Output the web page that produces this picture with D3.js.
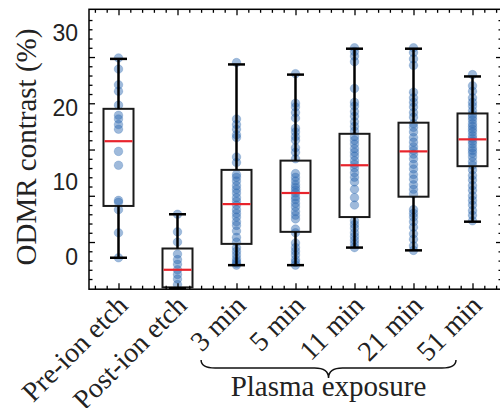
<!DOCTYPE html>
<html>
<head>
<meta charset="utf-8">
<script src="https://cdn.jsdelivr.net/npm/d3@7"></script>
<style>
  body { margin: 0; background: #fff; }
  svg { display: block; }
</style>
</head>
<body>
<div id="chart"></div>
<script>
// Categories on the x axis
const categories = ["Pre-ion etch", "Post-ion etch", "3 min", "5 min", "11 min", "21 min", "51 min"];

// Individual measurements per category (ODMR contrast, axis units)
const preIon = [24.9, 23.7, 22.0, 21.3, 19.8, 18.7, 18.3, 17.7, 17.2, 14.8, 13.3, 9.5, 9.3, 8.5, 6.0, 3.3];
const postIon = [8.0, 6.1, 5.0, 3.7, 3.1, 2.6, 2.0, 1.5, 1.0, 0.4];
const min3 = [24.4, 18.3, 17.7, 17.2, 16.6, 16.3, 14.2, 13.6, 12.3, 12.0, 11.6, 11.1, 10.7, 10.3, 9.8, 9.4,
  9.0, 8.5, 8.1, 7.7, 7.2, 6.8, 6.2, 5.5, 5.0, 4.4, 4.0, 3.6, 3.2, 2.9, 2.7, 2.5];
const min5 = [23.2, 20.0, 19.6, 19.0, 18.4, 17.3, 16.9, 16.4, 16.0, 15.2, 14.7, 14.0, 12.4, 12.0, 11.6, 11.2,
  10.9, 10.6, 10.3, 9.9, 9.6, 9.2, 8.8, 8.3, 7.9, 7.5, 6.4, 6.0, 4.9, 4.4, 4.0, 3.6, 3.1, 2.8, 2.5];
const min11 = [26.0, 25.6, 25.1, 24.5, 21.6, 20.1, 19.7, 19.1, 18.6, 18.0, 17.5, 17.0, 16.4, 16.0, 15.6, 15.1,
  14.7, 14.3, 13.8, 13.4, 13.0, 12.5, 12.0, 11.5, 10.7, 9.8, 9.0, 7.3, 6.9, 6.5, 6.0, 5.6, 5.2, 4.8, 4.4];
const min21 = [26.0, 25.5, 24.8, 24.1, 21.2, 20.6, 20.1, 19.6, 19.0, 18.5, 17.8, 17.4, 16.9, 16.3, 15.8, 15.3,
  14.9, 14.5, 14.0, 13.4, 12.9, 12.3, 11.8, 11.2, 10.7, 10.2, 8.5, 8.1, 7.7, 7.2, 6.6, 5.9, 5.3, 4.6, 4.1];
const min51 = [23.1, 21.9, 21.3, 20.6, 20.1, 19.7, 19.2, 18.8, 18.5, 18.2, 17.8, 17.5, 17.2, 16.9, 16.5, 16.2,
  15.9, 15.6, 15.2, 14.9, 14.6, 14.2, 13.7, 13.3, 12.8, 12.2, 11.7, 11.1, 10.6, 10.0, 9.5, 9.0, 8.4, 7.9, 7.3];
const points = [preIon, postIon, min3, min5, min11, min21, min51];

// Box statistics
const q1 = [8.9, 0.1, 4.8, 6.1, 7.7, 9.9, 13.2];
const median = [15.9, 2.0, 9.1, 10.3, 13.3, 14.8, 16.1];
const q3 = [19.4, 4.3, 12.8, 13.8, 16.7, 17.9, 18.9];
const whiskerLo = [3.3, 0.0, 2.5, 2.5, 4.4, 4.1, 7.2];
const whiskerHi = [24.8, 8.0, 24.2, 23.1, 25.9, 25.9, 22.9];

// Axis ticks and labels
const yMajorTicks = [5, 10, 15, 20, 25];
const yMinorTicks = d3.range(1, 31).filter(v => v % 5 !== 0);
const yLabels = [0, 10, 20, 30];

const W = 500, H = 408;
const margin = { top: 9.3, left: 89 };
const plotRight = 502, plotBottom = 289.2;
const serif = "Liberation Serif";

const svg = d3.select("#chart")
  .append("svg")
  .attr("width", W)
  .attr("height", H);

// Scales
const x = d3.scalePoint()
  .domain(categories)
  .range([margin.left, plotRight])
  .padding(0.5);

const xLin = d3.scaleLinear()
  .domain([-0.5, categories.length - 0.5])
  .range([margin.left, plotRight]);

const y = d3.scaleLinear()
  .domain([-0.1, 30.16])
  .range([plotBottom, margin.top]);

// tick labels sit on their own scale in the original figure
const yLabelScale = d3.scaleLinear()
  .domain([0, 30])
  .range([256.7, 33.3]);

const xMajor = d3.range(categories.length);
const xMinor = d3.range(-0.4, categories.length - 0.45, 0.2)
  .map(v => Math.round(v * 10) / 10)
  .filter(v => Math.abs(v - Math.round(v)) > 0.01);

// Points
const color = "#2a67b0";
points.forEach((vals, i) => {
  svg.append("g")
    .selectAll("circle")
    .data(vals)
    .enter().append("circle")
    .attr("cx", x(categories[i]))
    .attr("cy", d => y(d))
    .attr("r", 4.3)
    .attr("fill", color)
    .attr("fill-opacity", 0.45)
    .attr("stroke", color)
    .attr("stroke-opacity", 0.3)
    .attr("stroke-width", 0.8);
});

// Boxes, whiskers, medians
const boxW = 30, capW = 17;
const boxes = svg.append("g");
categories.forEach((c, i) => {
  const cx = x(c);
  boxes.append("rect")
    .attr("x", cx - boxW / 2)
    .attr("y", y(q3[i]))
    .attr("width", boxW)
    .attr("height", y(q1[i]) - y(q3[i]))
    .attr("fill", "none")
    .attr("stroke", "#1a1a1a")
    .attr("stroke-width", 2);

  [[whiskerLo[i], q1[i]], [q3[i], whiskerHi[i]]].forEach(([a, b]) => {
    boxes.append("line")
      .attr("x1", cx).attr("x2", cx)
      .attr("y1", y(a)).attr("y2", y(b))
      .attr("stroke", "#000")
      .attr("stroke-width", 2.5);
  });
  [whiskerLo[i], whiskerHi[i]].forEach(v => {
    boxes.append("line")
      .attr("x1", cx - capW / 2).attr("x2", cx + capW / 2)
      .attr("y1", y(v)).attr("y2", y(v))
      .attr("stroke", "#000")
      .attr("stroke-width", 2.5);
  });

  boxes.append("line")
    .attr("x1", cx - boxW / 2 + 1).attr("x2", cx + boxW / 2 - 1)
    .attr("y1", y(median[i])).attr("y2", y(median[i]))
    .attr("stroke", "#e8242c")
    .attr("stroke-width", 2.2);
});

// Frame
svg.append("rect")
  .attr("x", margin.left)
  .attr("y", margin.top)
  .attr("width", plotRight - margin.left)
  .attr("height", plotBottom - margin.top)
  .attr("fill", "none")
  .attr("stroke", "#000")
  .attr("stroke-width", 1.5);

// Inward ticks on all four sides
function ticks(axisFn, scale, values, size, transform) {
  const g = svg.append("g")
    .attr("transform", transform)
    .call(axisFn(scale).tickValues(values).tickSize(size).tickFormat(""));
  g.select(".domain").remove();
  g.selectAll("line").attr("stroke", "#000").attr("stroke-width", 1.3);
}
ticks(d3.axisBottom, xLin, xMajor, 6, `translate(0,${margin.top})`);
ticks(d3.axisBottom, xLin, xMinor, 3.5, `translate(0,${margin.top})`);
ticks(d3.axisTop, xLin, xMajor, 6, `translate(0,${plotBottom})`);
ticks(d3.axisTop, xLin, xMinor, 3.5, `translate(0,${plotBottom})`);
ticks(d3.axisRight, y, yMajorTicks, 6, `translate(${margin.left},0)`);
ticks(d3.axisRight, y, yMinorTicks, 3.5, `translate(${margin.left},0)`);
ticks(d3.axisLeft, y, yMajorTicks, 6, `translate(${plotRight},0)`);
ticks(d3.axisLeft, y, yMinorTicks, 3.5, `translate(${plotRight},0)`);

// Y tick labels
const yl = svg.append("g")
  .attr("transform", "translate(80,0)")
  .call(d3.axisLeft(yLabelScale).tickValues(yLabels).tickSize(0).tickPadding(2))
  .attr("font-family", "Liberation Sans")
  .attr("font-size", 23);
yl.select(".domain").remove();
yl.selectAll("text").attr("fill", "#222");

// Y title
svg.append("text")
  .attr("transform", "translate(36,147) rotate(-90)")
  .attr("text-anchor", "middle")
  .attr("font-family", serif)
  .attr("font-size", 29)
  .attr("fill", "#222")
  .text("ODMR contrast (%)");

// X category labels, rotated
svg.append("g")
  .selectAll("text")
  .data(categories)
  .enter().append("text")
  .attr("transform", d => `translate(${x(d) + 11},307) rotate(-45)`)
  .attr("text-anchor", "end")
  .attr("font-family", serif)
  .attr("font-size", 28)
  .attr("fill", "#222")
  .text(d => d);

// Brace under the plasma exposure groups
const bx1 = xLin(1.4), bx2 = xLin(5.72), bm = (bx1 + bx2) / 2;
const by = 360, bh = 8, btip = 18;
svg.append("path")
  .attr("d", `M${bx1},${by} Q${bx1},${by + bh} ${bx1 + 14},${by + bh}
    L${bm - 14},${by + bh} Q${bm},${by + bh} ${bm},${by + btip}
    Q${bm},${by + bh} ${bm + 14},${by + bh}
    L${bx2 - 14},${by + bh} Q${bx2},${by + bh} ${bx2},${by}`)
  .attr("fill", "none")
  .attr("stroke", "#111")
  .attr("stroke-width", 1.5);

svg.append("text")
  .attr("x", bm)
  .attr("y", 396)
  .attr("text-anchor", "middle")
  .attr("font-family", serif)
  .attr("font-size", 29)
  .attr("fill", "#222")
  .text("Plasma exposure");
</script>
</body>
</html>
